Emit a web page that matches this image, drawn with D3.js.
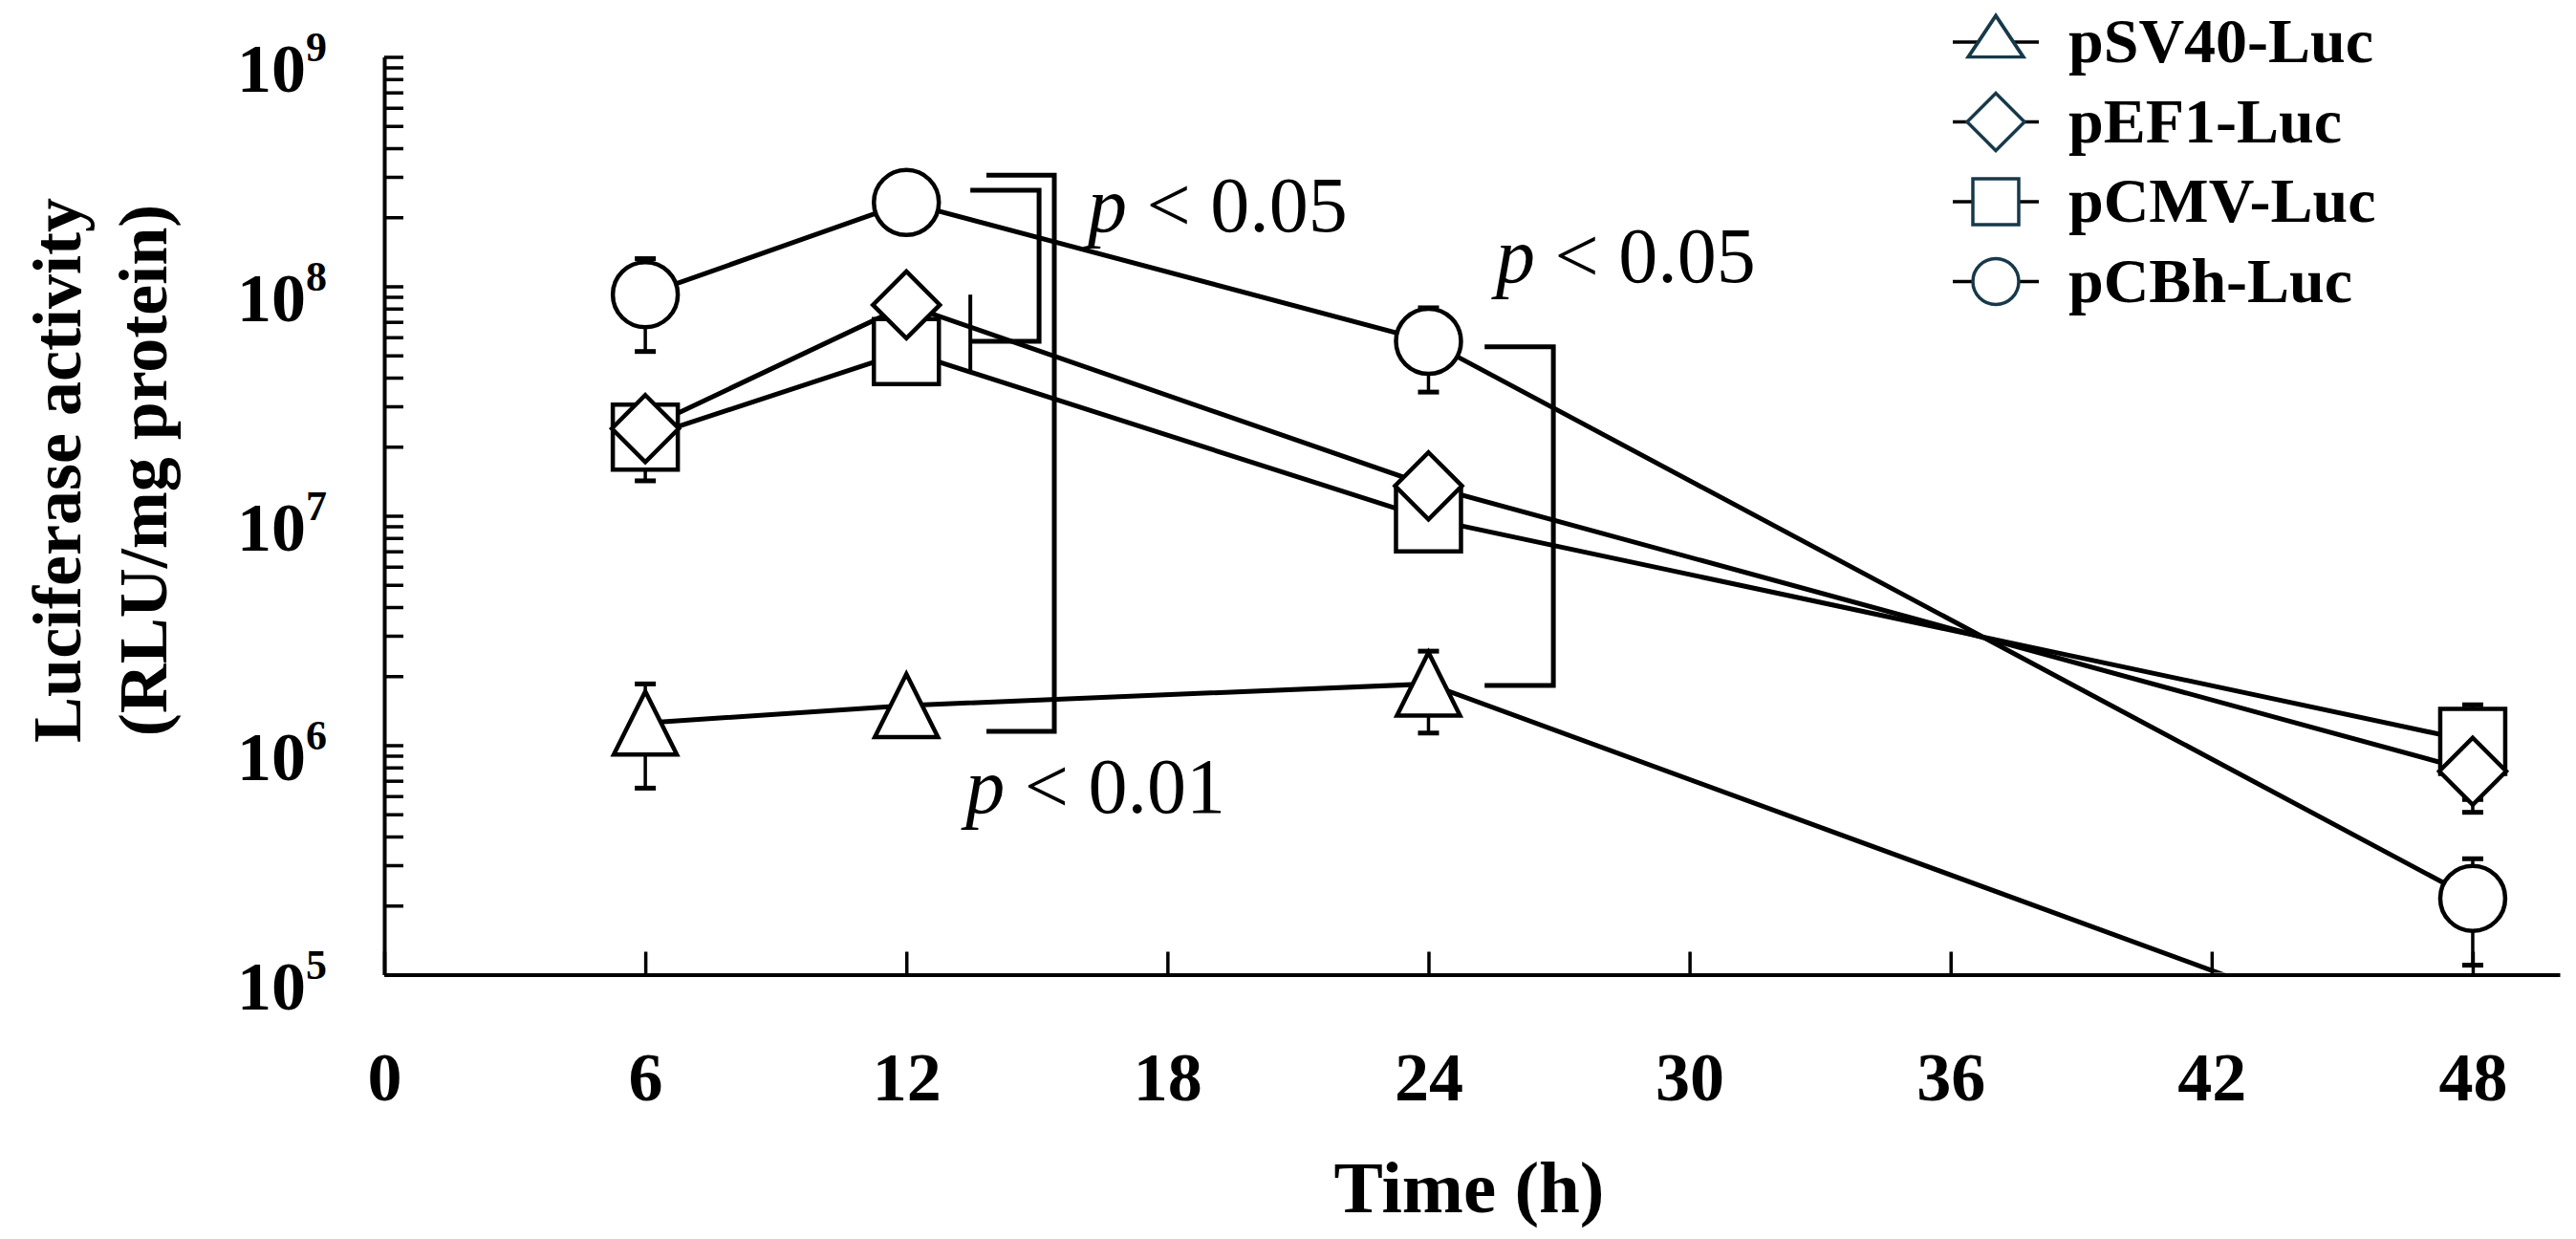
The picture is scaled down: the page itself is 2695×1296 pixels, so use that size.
<!DOCTYPE html>
<html>
<head>
<meta charset="utf-8">
<script src="https://cdn.jsdelivr.net/npm/d3@7"></script>
<style>
  body { margin: 0; background: #fff; }
  svg { display: block; }
  .axis path, .axis line { stroke: #000; }
  text { font-family: "Liberation Serif", "Times New Roman", serif; fill: #000; }
</style>
</head>
<body>
<div id="chart-area"></div>
<script>
// Data
var hours = [6, 12, 24, 48];
var seriesNames = ["pSV40-Luc", "pEF1-Luc", "pCMV-Luc", "pCBh-Luc"];
var sv40 = [1.25e6, 1.49e6, 1.85e6, 4.0e4];
var sv40Sd = [0.6e6, 0, 0.72e6, 0];
var ef1 = [2.4e7, 8.3e7, 1.35e7, 7.7e5];
var ef1Sd = [0, 0, 0, 2.6e5];
var cmv = [2.2e7, 5.2e7, 9.7e6, 1.04e6];
var cmvSd = [7.8e6, 0, 0, 4.6e5];
var cbh = [9.2e7, 2.32e8, 5.76e7, 2.15e5];
var cbhSd = [4.0e7, 0, 2.3e7, 1.05e5];

var xTicks = [0, 6, 12, 18, 24, 30, 36, 42, 48];
var yDecades = [5, 6, 7, 8, 9];

// significance brackets, in hours / RLU
var brackets = [
    { x0: 13.84, x1: 15.40, top: 3.05e8, bottom: 1.15e6 },
    { x0: 13.47, x1: 15.05, top: 2.62e8, bottom: 5.76e7 },
    { x0: 25.29, x1: 26.87, top: 5.45e7, bottom: 1.82e6 }
];
var pLabels = [
    { x: 16.17, y: 1.74e8, text: "< 0.05" },
    { x: 13.36, y: 5.08e5, text: "< 0.01" },
    { x: 25.55, y: 1.045e8, text: "< 0.05" }
];
var strayBar = { x: 13.47, top: 9.2e7, bottom: 4.28e7 };

var width = 2695, height = 1296;

var svg = d3.select("#chart-area")
    .append("svg")
    .attr("width", width)
    .attr("height", height);

// Scales
var x = d3.scaleLinear()
    .domain([0, 50])
    .range([402, 2678]);
var y = d3.scaleLog()
    .domain([1e5, 1e9])
    .range([1019.5, 59.5]);

// Y Axis (ticks point inward, labels drawn by hand for the superscripts)
var yTickValues = [];
yDecades.forEach(function(e){
    for (var k = 1; k <= 9; k++) {
        var v = k * Math.pow(10, e);
        if (v <= 1e9) yTickValues.push(v);
    }
});
var yAxisCall = d3.axisLeft(y)
    .tickValues(yTickValues)
    .tickSizeInner(-20)
    .tickSizeOuter(0)
    .tickFormat("");
svg.append("g")
    .attr("class", "y axis")
    .attr("transform", "translate(" + x(0) + ",0)")
    .call(yAxisCall)
    .call(function(g){
        g.select(".domain").attr("stroke-width", 4);
        g.selectAll(".tick line").attr("stroke-width", 3.5);
    });

var yLabels = svg.append("g").attr("class", "y labels");
yDecades.forEach(function(e){
    var t = yLabels.append("text")
        .attr("x", 342)
        .attr("y", y(Math.pow(10, e)) + 36)
        .attr("text-anchor", "end")
        .attr("font-size", 72)
        .attr("font-weight", "bold");
    t.append("tspan").text("10");
    t.append("tspan")
        .attr("font-size", 44)
        .attr("dy", -32)
        .text(e);
});

// X Axis
var xAxisCall = d3.axisBottom(x)
    .tickValues(xTicks)
    .tickSizeInner(-24)
    .tickSizeOuter(0)
    .tickFormat(function(d){ return d; });
svg.append("g")
    .attr("class", "x axis")
    .attr("transform", "translate(0," + y(1e5) + ")")
    .call(xAxisCall)
    .call(function(g){
        g.select(".domain").attr("stroke-width", 4);
        g.selectAll(".tick line").attr("stroke-width", 3.5);
        g.selectAll(".tick text")
            .attr("y", 131)
            .attr("dy", 0)
            .attr("font-size", 72)
            .attr("font-weight", "bold")
            .attr("font-family", "Liberation Serif, Times New Roman, serif")
            .attr("fill", "#000");
    });

// Labels
svg.append("text")
    .attr("x", 1537)
    .attr("y", 1268)
    .attr("text-anchor", "middle")
    .attr("font-size", 77)
    .attr("font-weight", "bold")
    .text("Time (h)");

var yTitle = svg.append("text")
    .attr("transform", "translate(0,492) rotate(-90)")
    .attr("text-anchor", "middle")
    .attr("font-size", 72)
    .attr("font-weight", "bold");
yTitle.append("tspan").attr("x", 0).attr("y", 84).text("Luciferase activity");
yTitle.append("tspan").attr("x", 0).attr("y", 174).text("(RLU/mg protein)");

// Series
var series = [
    { name: seriesNames[0], values: sv40, sd: sv40Sd, shape: "triangle" },
    { name: seriesNames[1], values: ef1, sd: ef1Sd, shape: "diamond" },
    { name: seriesNames[2], values: cmv, sd: cmvSd, shape: "square" },
    { name: seriesNames[3], values: cbh, sd: cbhSd, shape: "circle" }
];
// drawing order: diamond sits over square
var drawOrder = [0, 2, 1, 3];

svg.append("clipPath")
    .attr("id", "plot-clip")
    .append("rect")
    .attr("x", x(0))
    .attr("y", 0)
    .attr("width", x(50) - x(0))
    .attr("height", y(1e5) - 2);

var line = d3.line()
    .x(function(d){ return x(d.t); })
    .y(function(d){ return y(d.v); });

function points(s) {
    return hours.map(function(t, i){ return { t: t, v: s.values[i], sd: s.sd[i] }; });
}

var lines = svg.append("g").attr("clip-path", "url(#plot-clip)");
series.forEach(function(s){
    lines.append("path")
        .datum(points(s))
        .attr("fill", "none")
        .attr("stroke", "#000")
        .attr("stroke-width", 5)
        .attr("d", line);
});

// Error bars
var bars = svg.append("g");
series.forEach(function(s){
    points(s).filter(function(d){ return d.sd > 0 && d.v >= 1e5; }).forEach(function(d){
        var cx = x(d.t);
        var hi = y(d.v + d.sd);
        var lo = y(Math.max(d.v - d.sd, 1e5));
        bars.append("line")
            .attr("x1", cx).attr("x2", cx)
            .attr("y1", hi).attr("y2", lo)
            .attr("stroke", "#000").attr("stroke-width", 3.5);
        [hi, lo].forEach(function(yy){
            bars.append("line")
                .attr("x1", cx - 11).attr("x2", cx + 11)
                .attr("y1", yy).attr("y2", yy)
                .attr("stroke", "#000").attr("stroke-width", 5);
        });
    });
});

// Markers
function shapePath(shape, r) {
    if (shape === "circle") {
        return "M" + (-r) + ",0A" + r + "," + r + " 0 1,0 " + r + ",0A" + r + "," + r + " 0 1,0 " + (-r) + ",0Z";
    }
    if (shape === "square") {
        return "M" + (-r) + "," + (-r) + "H" + r + "V" + r + "H" + (-r) + "Z";
    }
    if (shape === "diamond") {
        return "M0," + (-r) + "L" + r + ",0L0," + r + "L" + (-r) + ",0Z";
    }
    // triangle
    return "M0," + (-r) + "L" + r + "," + r + "L" + (-r) + "," + r + "Z";
}
var markerSize = { triangle: 33, diamond: 35, square: 34, circle: 34 };

var markers = svg.append("g");
drawOrder.forEach(function(k){
    var s = series[k];
    markers.selectAll(".m" + k)
        .data(points(s).filter(function(d){ return d.v >= 1e5; }))
        .enter()
        .append("path")
        .attr("class", "m" + k)
        .attr("transform", function(d){ return "translate(" + x(d.t) + "," + y(d.v) + ")"; })
        .attr("d", shapePath(s.shape, markerSize[s.shape]))
        .attr("fill", "#fff")
        .attr("stroke", "#000")
        .attr("stroke-width", 4.5)
        .attr("stroke-linejoin", "miter");
});

// Significance brackets
var ann = svg.append("g")
    .attr("fill", "none")
    .attr("stroke", "#000")
    .attr("stroke-width", 5);
brackets.forEach(function(b){
    ann.append("path")
        .attr("d", "M" + x(b.x0) + "," + y(b.top) +
            "H" + x(b.x1) + "V" + y(b.bottom) + "H" + x(b.x0));
});
ann.append("line")
    .attr("x1", x(strayBar.x)).attr("x2", x(strayBar.x))
    .attr("y1", y(strayBar.top)).attr("y2", y(strayBar.bottom))
    .attr("stroke-width", 4);

pLabels.forEach(function(p){
    var t = svg.append("text")
        .attr("x", x(p.x))
        .attr("y", y(p.y))
        .attr("font-size", 82);
    t.append("tspan").attr("font-style", "italic").text("p");
    t.append("tspan").text(" " + p.text);
});

// Legend
var legendColor = "#17394a";
var legend = svg.append("g").attr("class", "legend");
var legendSize = { triangle: 24, diamond: 30, square: 24, circle: 24 };
series.forEach(function(s, i){
    var row = legend.append("g")
        .attr("transform", "translate(2088," + (44 + i * 83.5) + ")");
    row.append("line")
        .attr("x1", -45).attr("x2", 45)
        .attr("stroke", "#000").attr("stroke-width", 3.5);
    row.append("path")
        .attr("d", shapePath(s.shape, legendSize[s.shape]))
        .attr("transform", s.shape === "triangle" ? "translate(0,-6) scale(1.2,0.9)" : null)
        .attr("fill", "#fff")
        .attr("stroke", legendColor)
        .attr("stroke-width", 3.5);
    row.append("text")
        .attr("x", 76)
        .attr("y", 21)
        .attr("font-size", 66)
        .attr("font-weight", "bold")
        .text(s.name);
});
</script>
</body>
</html>
